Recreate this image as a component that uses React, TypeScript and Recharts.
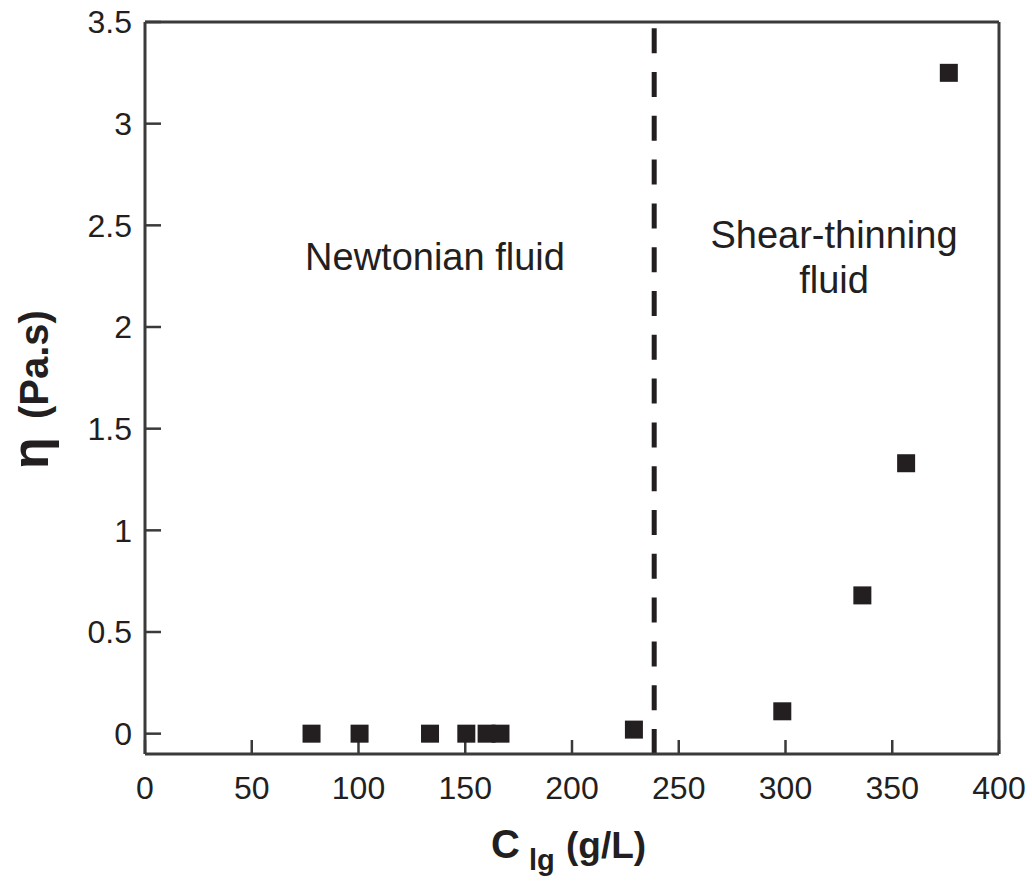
import React from "react";
import { ScatterChart, Scatter, XAxis, YAxis, ReferenceLine } from "recharts";

// concentration (g/L) and viscosity (Pa.s)
const concentration = [78, 100.5, 133.5, 150.5, 160, 166.5, 229, 298.5, 336, 356.5, 376.5];
const viscosity = [0, 0, 0, 0, 0, 0, 0.02, 0.11, 0.68, 1.33, 3.25];
const xTicks = [0, 50, 100, 150, 200, 250, 300, 350, 400];
const yTicks = [0, 0.5, 1, 1.5, 2, 2.5, 3, 3.5];
const transitionX = 238.5;

const points = concentration.map((c, i) => ({ c, eta: viscosity[i] }));

const FONT = '"Liberation Sans", Arial, sans-serif';
const INK = "#231f20";
const AXIS = "#3a3a3a";

const squareMarker = (props: any) => {
  const { cx, cy } = props;
  return <rect x={cx - 9} y={cy - 9} width={18} height={18} fill={INK} />;
};

export default function App() {
  return (
    <div style={{ position: "absolute", left: 0, top: 0, background: "#fff" }}>
      <ScatterChart
        width={1032}
        height={883}
        margin={{ top: 22, right: 33, bottom: 0, left: 0 }}
        style={{ fontFamily: FONT }}
      >
        <XAxis
          type="number"
          dataKey="c"
          domain={[0, 400]}
          ticks={xTicks}
          height={129}
          tickSize={-14}
          tickMargin={36}
          axisLine={{ stroke: AXIS, strokeWidth: 3 }}
          tickLine={{ stroke: AXIS, strokeWidth: 2.5 }}
          tick={{ fill: INK, fontSize: 32, fontFamily: FONT }}
        />
        <YAxis
          type="number"
          dataKey="eta"
          domain={[-0.1, 3.5]}
          ticks={yTicks}
          width={145}
          tickSize={-16}
          tickMargin={29}
          axisLine={{ stroke: AXIS, strokeWidth: 3 }}
          tickLine={{ stroke: AXIS, strokeWidth: 2.5 }}
          tick={{ fill: INK, fontSize: 32, fontFamily: FONT }}
        />
        <ReferenceLine y={3.5} stroke={AXIS} strokeWidth={3} />
        <ReferenceLine x={400} stroke={AXIS} strokeWidth={3} />
        <ReferenceLine
          x={transitionX}
          stroke={INK}
          strokeWidth={5}
          strokeDasharray="25 18.8"
        />
        <Scatter data={points} shape={squareMarker} isAnimationActive={false} />

        <g fontFamily={FONT} fill={INK}>
          <text x={435} y={270} fontSize={38} textAnchor="middle">
            Newtonian fluid
          </text>
          <text x={834} y={248} fontSize={38} textAnchor="middle">
            Shear-thinning
          </text>
          <text x={834} y={293} fontSize={38} textAnchor="middle">
            fluid
          </text>

          <text x={491} y={858} fontSize={40} fontWeight="bold">
            C
          </text>
          <text x={529} y={870} fontSize={29} fontWeight="bold">
            lg
          </text>
          <text x={566} y={858} fontSize={37} fontWeight="bold">
            (g/L)
          </text>

          <g transform="translate(48,469) rotate(-90)">
            <text x={0} y={0} fontSize={52} fontWeight="bold">
              η
            </text>
            <text x={50} y={0} fontSize={40} fontWeight="bold">
              (Pa.s)
            </text>
          </g>
        </g>
      </ScatterChart>
    </div>
  );
}
